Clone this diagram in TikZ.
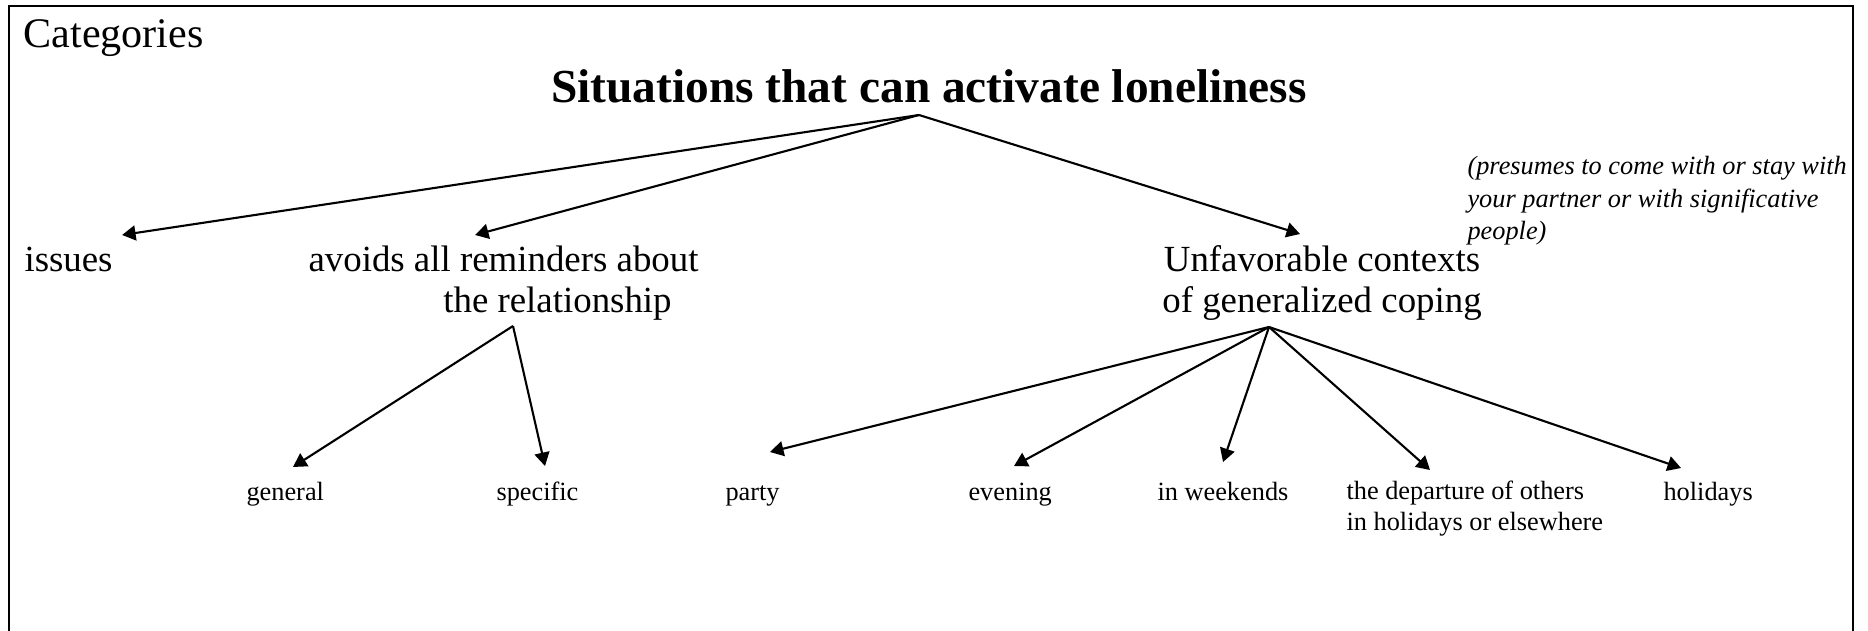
\documentclass[tikz,border=0pt]{standalone}
\usepackage{fontspec}
\setmainfont{Liberation Serif}
\usepackage{tikz}
\usetikzlibrary{arrows.meta,calc}
\tikzset{
  arr/.style={-{Triangle[length=1.8mm, width=2.0mm]}, line width=0.8pt},
  rim/.style={line width=0.8pt},
  head/.style={inner sep=0pt, font=\fontsize{16}{19}\selectfont},
  ttl/.style={inner sep=0pt, font=\fontsize{18}{21}\selectfont\bfseries},
  lbl/.style={inner sep=0pt, font=\fontsize{14}{15.2}\selectfont},
  sub/.style={inner sep=0pt, font=\fontsize{10}{11.5}\selectfont},
  note/.style={inner sep=0pt, align=left, font=\fontsize{10}{12.5}\selectfont\itshape}
}

\begin{document}
\begin{tikzpicture}[x=0.1335mm, y=-0.1335mm]
\useasboundingbox (0,0) rectangle (1868,631);
\draw[rim] (9,631) |- (1853,6) -- (1853,631);
\node[head, anchor=base west] (cat) at (23,48) {Categories};
\node[ttl, anchor=base] (title) at (929,103) {Situations that can activate loneliness};
% first level (base = last line)
\node[lbl, anchor=base west] (issues) at (24,271) {issues};
\node[lbl, anchor=base west, align=left] (avoid) at (308,312) {avoids all reminders about\\\hspace*{18mm}the relationship};
\node[lbl, anchor=base, align=center] (ctx) at (1322,312) {Unfavorable contexts\\of generalized coping};
\node[note, anchor=base west] (presume) at (1467,240) {(presumes to come with or stay with\\your partner or with significative\\people)};
% second level
\node[sub, anchor=base west] (general) at (246,500) {general};
\node[sub, anchor=base west] (specific) at (496,500) {specific};
\node[sub, anchor=base west] (party) at (725,500) {party};
\node[sub, anchor=base west] (evening) at (968,500) {evening};
\node[sub, anchor=base west] (weekends) at (1157,500) {in weekends};
\node[sub, anchor=base west, align=left] (departure) at (1346,530) {the departure of others\\in holidays or elsewhere};
\node[sub, anchor=base west] (holidays) at (1663,500) {holidays};
% arrow roots
\coordinate (top) at ($(title.base)+(-10,12)$);
\coordinate (avoidroot) at ($(avoid.base west)+(205,14)$);
\coordinate (ctxroot) at ($(ctx.base)+(-53,15)$);
\draw[arr] (top) -- ($(issues.base east)+(9,-36)$);
\draw[arr] (top) -- ($(avoid.base west)+(167,-77)$);
\draw[arr] (top) -- ($(ctx.base)+(-22,-78)$);
\draw[arr] (avoidroot) -- ($(general.base west)+(47,-33)$);
\draw[arr] (avoidroot) -- ($(specific.base west)+(49,-34)$);
\draw[arr] (ctxroot) -- ($(party.base west)+(45,-48)$);
\draw[arr] (ctxroot) -- ($(evening.base west)+(46,-34)$);
\draw[arr] (ctxroot) -- ($(weekends.base west)+(66,-38)$);
\draw[arr] (ctxroot) -- ($(departure.base west)+(84,-60)$);
\draw[arr] (ctxroot) -- ($(holidays.base west)+(18,-32)$);
\end{tikzpicture}
\end{document}
